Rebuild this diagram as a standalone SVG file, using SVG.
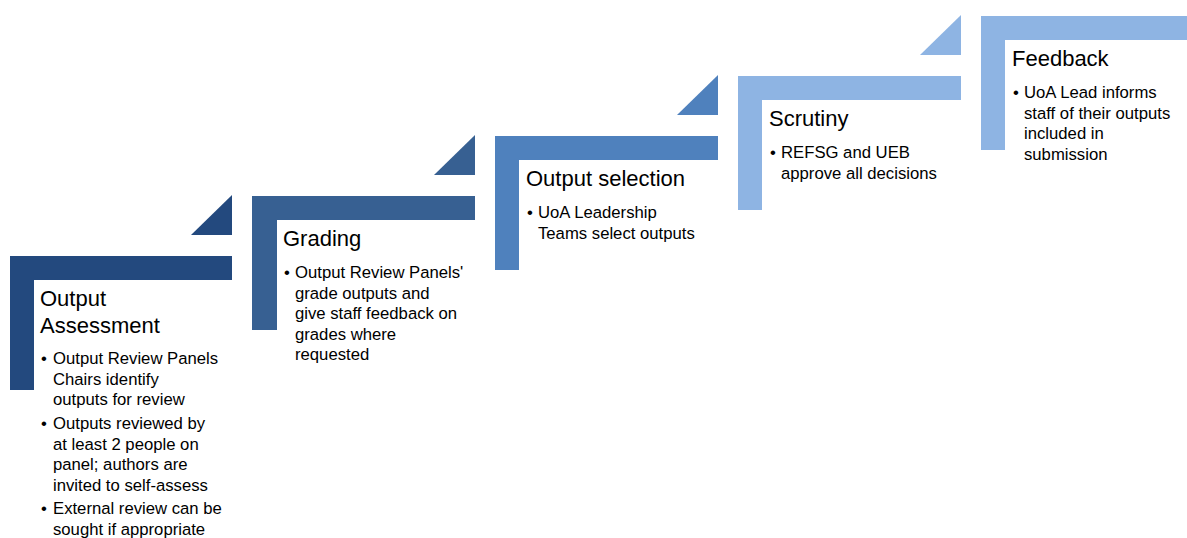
<svg xmlns="http://www.w3.org/2000/svg" width="1187" height="538" viewBox="0 0 1187 538">
<style>
.h{font-family:"Liberation Sans",Arial,sans-serif;font-size:22px;fill:#000}
.b{font-family:"Liberation Sans",Arial,sans-serif;font-size:16.7px;fill:#000}
.c1{fill:#23497E}.c2{fill:#376092}.c3{fill:#4F81BD}.c4{fill:#8EB4E3}
</style>
<rect width="1187" height="538" fill="#fff"/>
<g id="connectors">
<polygon class="c1" points="232,195 232,235 191,235"/>
<polygon class="c2" points="475,135 475,175 434,175"/>
<polygon class="c3" points="718,75 718,115 677,115"/>
<polygon class="c4" points="961,15 961,55 920,55"/>
</g>
<g id="step1">
<path class="c1" d="M10,256H232V280H34V390H10Z"/>
<text class="h" x="40" y="306">Output</text>
<text class="h" x="40" y="333">Assessment</text>
<text class="b" x="41" y="364">•</text><text class="b" x="53" y="364">Output Review Panels</text>
<text class="b" x="53" y="384.5">Chairs identify</text>
<text class="b" x="53" y="405">outputs for review</text>
<text class="b" x="41" y="429">•</text><text class="b" x="53" y="429">Outputs reviewed by</text>
<text class="b" x="53" y="449.5">at least 2 people on</text>
<text class="b" x="53" y="470">panel; authors are</text>
<text class="b" x="53" y="490.5">invited to self-assess</text>
<text class="b" x="41" y="514">•</text><text class="b" x="53" y="514">External review can be</text>
<text class="b" x="53" y="534.5">sought if appropriate</text>
</g>
<g id="step2">
<path class="c2" d="M252,196H475V220H277V330H252Z"/>
<text class="h" x="283" y="246">Grading</text>
<text class="b" x="284" y="278">•</text><text class="b" x="295" y="278">Output Review Panels'</text>
<text class="b" x="295" y="298.5">grade outputs and</text>
<text class="b" x="295" y="319">give staff feedback on</text>
<text class="b" x="295" y="339.5">grades where</text>
<text class="b" x="295" y="360">requested</text>
</g>
<g id="step3">
<path class="c3" d="M495,136H718V160H519V270H495Z"/>
<text class="h" x="526" y="186">Output selection</text>
<text class="b" x="527" y="218">•</text><text class="b" x="538" y="218">UoA Leadership</text>
<text class="b" x="538" y="238.5">Teams select outputs</text>
</g>
<g id="step4">
<path class="c4" d="M738,76H961V100H762V210H738Z"/>
<text class="h" x="769" y="126">Scrutiny</text>
<text class="b" x="770" y="158">•</text><text class="b" x="781" y="158">REFSG and UEB</text>
<text class="b" x="781" y="178.5">approve all decisions</text>
</g>
<g id="step5">
<path class="c4" d="M981,16H1187V40H1005V150H981Z"/>
<text class="h" x="1012" y="66">Feedback</text>
<text class="b" x="1013" y="98">•</text><text class="b" x="1024" y="98">UoA Lead informs</text>
<text class="b" x="1024" y="118.5">staff of their outputs</text>
<text class="b" x="1024" y="139">included in</text>
<text class="b" x="1024" y="159.5">submission</text>
</g>
</svg>
